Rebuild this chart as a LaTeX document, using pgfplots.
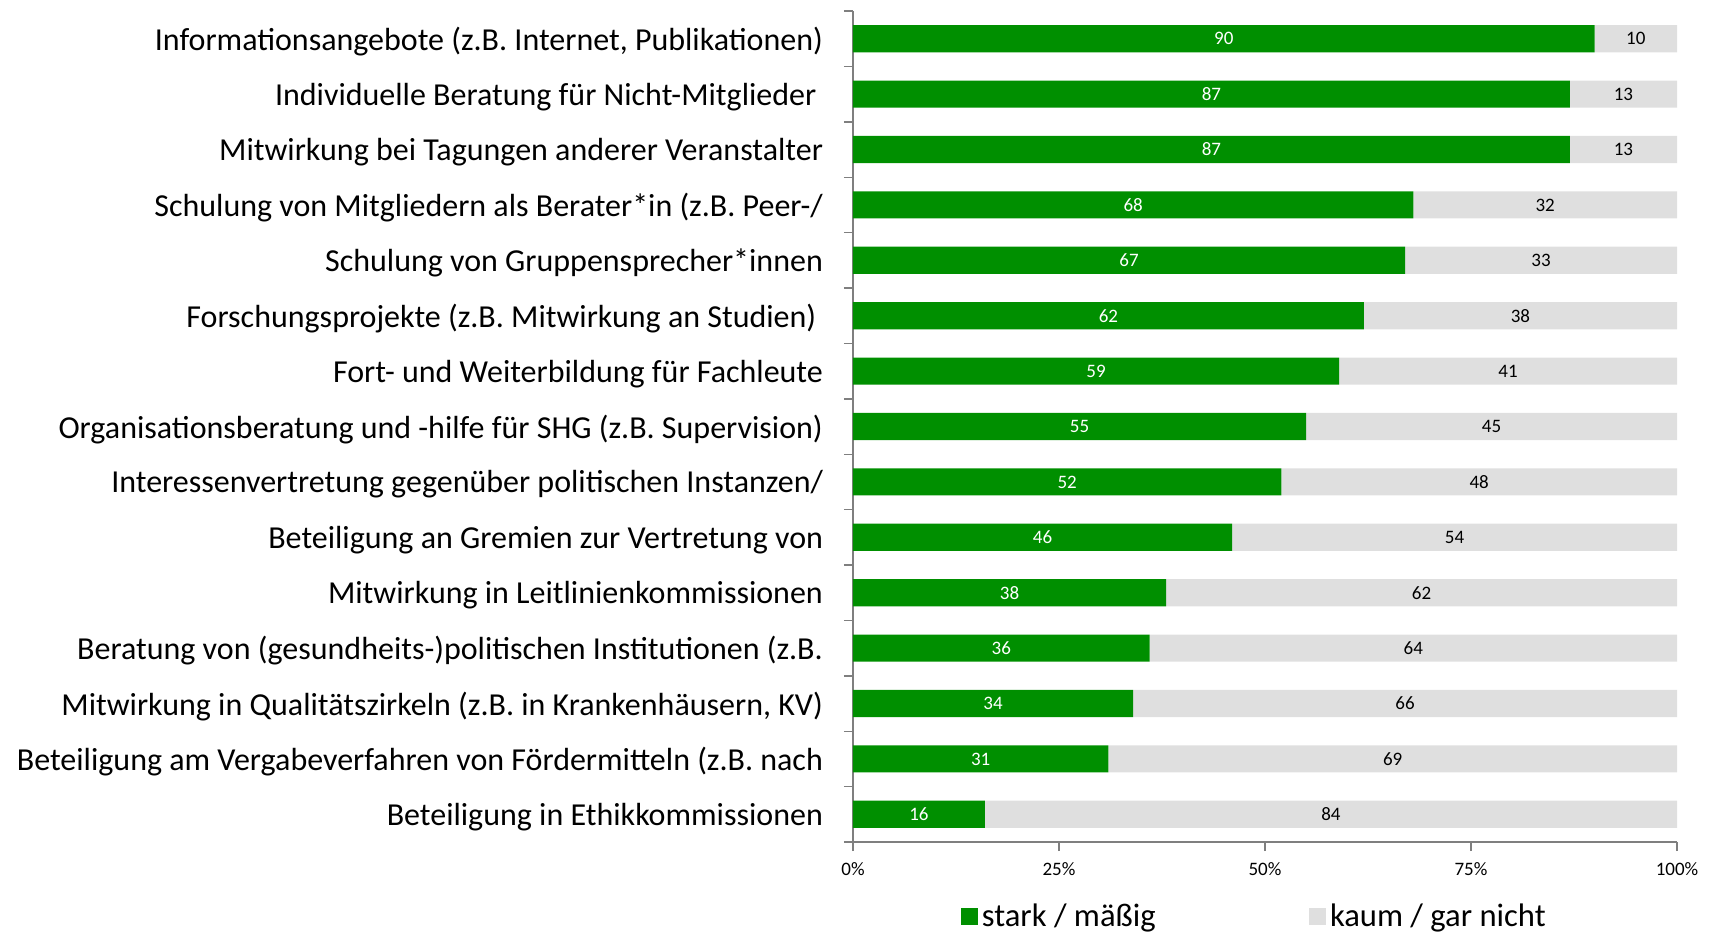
\documentclass[border=0pt]{standalone}
\usepackage{fontspec}
\setmainfont{Carlito}
\usepackage{pgfplots}
\usepackage{pgfplotstable}
\pgfplotsset{compat=1.18}
\definecolor{cgreen}{HTML}{008F00}
\definecolor{cgray}{HTML}{DFDFDF}
\definecolor{axgray}{HTML}{7F7F7F}
\pgfplotstableread{
idx a b
0 90 10
1 87 13
2 87 13
3 68 32
4 67 33
5 62 38
6 59 41
7 55 45
8 52 48
9 46 54
10 38 62
11 36 64
12 34 66
13 31 69
14 16 84
}\data
\begin{document}
\begin{tikzpicture}
\begin{axis}[
  scale only axis, width=412pt, height=415.5pt,
  /pgf/number format/assume math mode=true,
  xbar stacked, bar width=0.49,
  xmin=0, xmax=100, ymin=-0.5, ymax=14.5, y dir=reverse,
  axis x line*=bottom, axis y line*=left,
  axis line style={axgray, line width=0.7pt},
  xtick={0,25,50,75,100}, xticklabels={0\%,25\%,50\%,75\%,100\%},
  ytick={0,...,14},
  yticklabels={
    Informationsangebote (z.B. Internet{,} Publikationen),
    Individuelle Beratung für Nicht-Mitglieder\hspace*{3.3pt}\mbox{},
    Mitwirkung bei Tagungen anderer Veranstalter,
    Schulung von Mitgliedern als Berater*in (z.B. Peer-/,
    Schulung von Gruppensprecher*innen,
    Forschungsprojekte (z.B. Mitwirkung an Studien)\hspace*{3.3pt}\mbox{},
    Fort- und Weiterbildung für Fachleute,
    Organisationsberatung und -hilfe für SHG (z.B. Supervision),
    Interessenvertretung gegenüber politischen Instanzen/,
    Beteiligung an Gremien zur Vertretung von,
    Mitwirkung in Leitlinienkommissionen,
    Beratung von (gesundheits-)politischen Institutionen (z.B.,
    Mitwirkung in Qualitätszirkeln (z.B. in Krankenhäusern{,} KV),
    Beteiligung am Vergabeverfahren von Fördermitteln (z.B. nach,
    Beteiligung in Ethikkommissionen},
  minor ytick={-0.5,0.5,...,14.5},
  tick align=outside, major tick length=4.5pt, minor tick length=4.5pt,
  tick style={axgray, line width=0.7pt},
  major y tick style={draw=none},
  yticklabel style={font=\fontsize{16}{18}\selectfont, anchor=east, xshift=-7pt, yshift=-1.3pt},
  xticklabel style={font=\fontsize{9.5}{11}\selectfont, yshift=-2pt},
  legend style={at={(0.488,-0.09)}, anchor=center, draw=none, fill=none,
    legend columns=2, font=\fontsize{16.3}{18}\selectfont,
    /tikz/every even column/.append style={column sep=74.5pt}},
  legend image code/.code={\fill[#1] (0pt,-4.35pt) rectangle (8.7pt,4.35pt);},
  nodes near coords,
  point meta=explicit,
  every node near coord/.append style={font=\fontsize{9.5}{11}\selectfont, anchor=center},
]
\addplot[fill=cgreen, draw=none,
  every node near coord/.append style={text=white}]
  table[x=a, y=idx, meta=a] {\data};
\addlegendentry{stark / mäßig}
\addplot[fill=cgray, draw=none,
  every node near coord/.append style={text=black}]
  table[x=b, y=idx, meta=b] {\data};
\addlegendentry{kaum / gar nicht}
\end{axis}
\pgfresetboundingbox
\path[use as bounding box] (-426.5pt,-44.5pt) rectangle (429.5pt,421pt);
\end{tikzpicture}
\end{document}
